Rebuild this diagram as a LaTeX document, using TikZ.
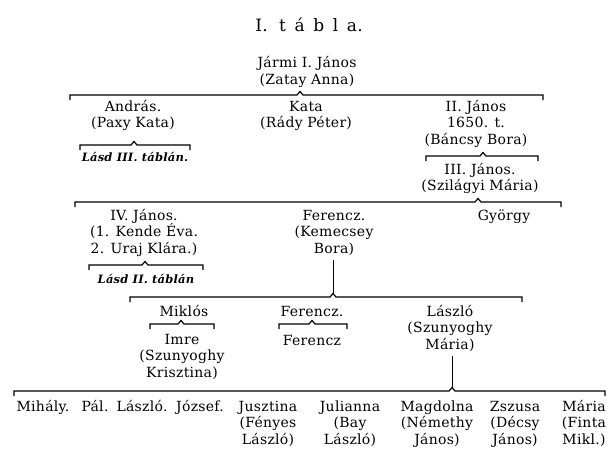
\documentclass[tikz,border=0pt]{standalone}
\usepackage{fontspec}
\setmainfont{DejaVu Serif}[LetterSpace=2]
\newcommand{\nevbetu}{\fontsize{14}{16.5}\selectfont}
\newcommand{\lasdbetu}{\fontsize{11.5}{14}\selectfont\bfseries\itshape}
\newcommand{\cimbetu}{\fontsize{17}{18}\selectfont}
% bracket: name, left x, caret x, right x, y
\newcommand{\csaladvonal}[5]{%
  \coordinate (#1) at (#3,#5-3.5);
  \draw[vonal] (#2,#5+5) -- (#2,#5) -- (#3-3,#5) -- (#1) -- (#3+3,#5) -- (#4,#5) -- (#4,#5+5);
}
\begin{document}
\begin{tikzpicture}[x=1pt, y=-1pt,
  every node/.style={inner sep=0pt, anchor=base, align=center, font=\nevbetu},
  lasd/.style={font=\lasdbetu},
  vonal/.style={line width=1.2pt}]
  \useasboundingbox (0,0) rectangle (616,459);
  \node[font=\cimbetu] (cim) at (309,31) {I.\ \ t\,\ á\,\ b\,\ l\,\ a.};
  % first generations (y = baseline of the last line)
  \node (jarmi) at (307,84) {Jármi I. János\\(Zatay Anna)};
  \csaladvonal{k1}{70}{300}{543}{95}
  \node (andras) at (133,127.5) {András.\\(Paxy Kata)};
  \node (kata) at (306,127.5) {Kata\\(Rády Péter)};
  \node (janos2) at (476,144) {II. János\\1650. t.\\(Báncsy Bora)};
  \csaladvonal{k2}{80}{134}{190}{145}
  \node[lasd] (lasd3) at (135,161) {Lásd III. táblán.};
  \csaladvonal{k3}{426}{483}{538}{156}
  \node (janos3) at (480,190.5) {III. János.\\(Szilágyi Mária)};
  \csaladvonal{k4}{75}{478}{561}{202}
  \node (janos4) at (144,253) {IV. János.\\(1. Kende Éva.\\2. Uraj Klára.)};
  \node (ferencz1) at (334,253) {Ferencz.\\(Kemecsey\\Bora)};
  \node (gyorgy) at (504,220) {György};
  \csaladvonal{k5}{89}{145}{203}{265}
  \node[lasd] (lasd2) at (146,283) {Lásd II. táblán};
  % Ferencz's branch
  \csaladvonal{k6}{130}{333}{522}{297}
  \draw[vonal, line width=0.9pt, shorten <=5pt] (ferencz1.south -| k6) -- (k6);
  \node (miklos) at (184,316) {Miklós};
  \node (ferencz2) at (312,316) {Ferencz.};
  \node (laszlo1) at (450,349) {László\\(Szunyoghy\\Mária)};
  \csaladvonal{k7}{150}{181}{214}{324}
  \csaladvonal{k8}{279}{312}{347}{324}
  \node (imre) at (182,377) {Imre\\(Szunyoghy\\Krisztina)};
  \node (ferencz3) at (312,345) {Ferencz};
  % László's children
  \csaladvonal{k9}{14}{452}{605}{391}
  \draw[vonal, line width=0.9pt, shorten <=5pt] (laszlo1.south -| k9) -- (k9);
  \node (mihaly) at (43,411) {Mihály.};
  \node (pal) at (95,411) {Pál.};
  \node (laszlo2) at (142,411) {László.};
  \node (jozsef) at (200,411) {József.};
  \node (jusztina) at (268,444) {Jusztina\\(Fényes\\László)};
  \node (julianna) at (350,444) {Julianna\\(Bay\\László)};
  \node (magdolna) at (437,444) {Magdolna\\(Némethy\\János)};
  \node (zszusa) at (515,444) {Zszusa\\(Décsy\\János)};
  \node (maria) at (584,444) {Mária\\(Finta\\Mikl.)};
\end{tikzpicture}
\end{document}
